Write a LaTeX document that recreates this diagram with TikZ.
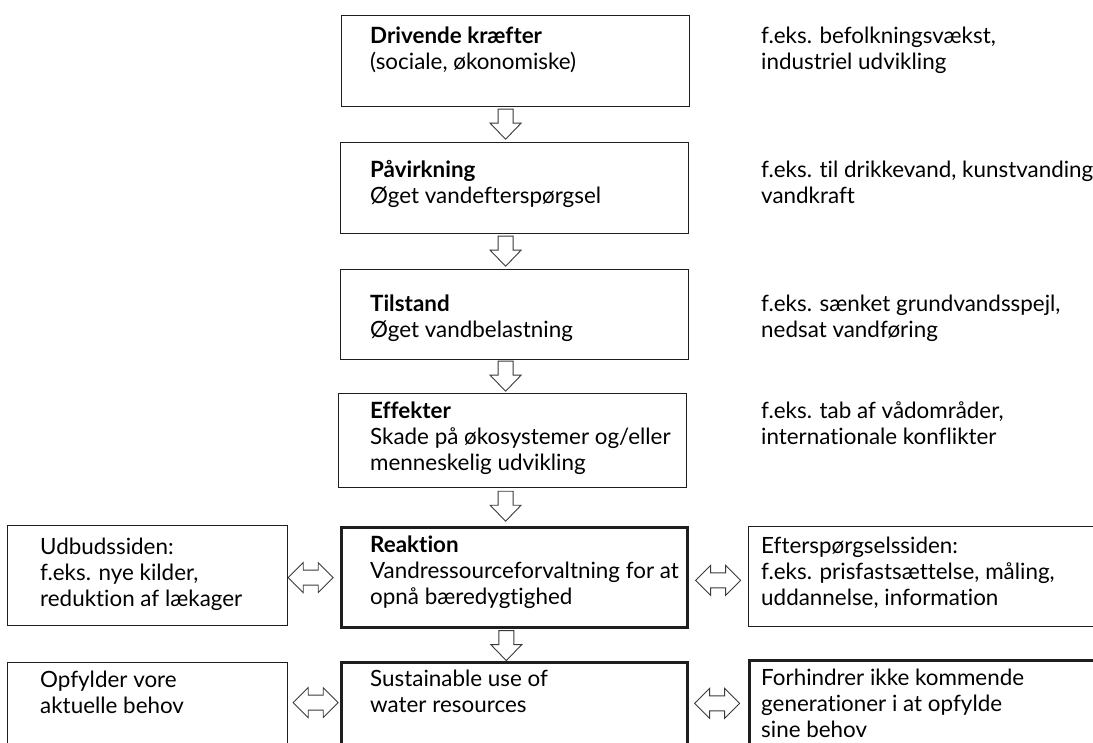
\documentclass[tikz,border=0pt]{standalone}
\usepackage{fontspec}
\setmainfont{Lato}[Ligatures=NoCommon]
\usetikzlibrary{calc}
\definecolor{boxcol}{HTML}{1E1E1E}
\definecolor{arrcol}{HTML}{3A3A3A}
\tikzset{
  box/.style={draw=boxcol, line width=1.2pt, inner sep=0pt, anchor=north west},
  thickbox/.style={box, line width=2.6pt},
  txt/.style={anchor=base west, align=left, inner sep=0pt, font=\fontsize{22.4}{26}\selectfont},
}
\tikzset{blk/.style={draw=arrcol, line width=0.9pt, fill=white, line join=miter}}
\newcommand{\dnarr}[1]{\draw[blk] #1 ++(-7.5,0) -- ++(15,0) -- ++(0,14) -- ++(8,0) -- ++(-15.5,16) -- ++(-15.5,-16) -- ++(8,0) -- cycle;}
\newcommand{\lrarr}[1]{\draw[blk] #1 -- ++(15,-15) -- ++(0,7.5) -- ++(15,0) -- ++(0,-7.5) -- ++(15,15) -- ++(-15,15) -- ++(0,-7.5) -- ++(-15,0) -- ++(0,7.5) -- cycle;}
\begin{document}
\begin{tikzpicture}[x=1pt,y=-1pt]
\useasboundingbox (0,0) rectangle (1093,743);
\clip (0,0) rectangle (1093,743);
\fill[white] (0,0) rectangle (1093,743);
% center column boxes
\node[box, minimum width=348pt, minimum height=91pt] (drv) at (341,15) {};
\node[box, minimum width=348pt, minimum height=91pt] (pav) at (340,142) {};
\node[box, minimum width=348pt, minimum height=90pt] (til) at (340,269) {};
\node[box, minimum width=348pt, minimum height=94pt] (eff) at (338,393) {};
\node[thickbox, minimum width=346pt, minimum height=100pt] (rea) at (340,526) {};
\node[thickbox, minimum width=346pt, minimum height=120pt] (sus) at (340,661) {};
% side boxes
\node[box, minimum width=280pt, minimum height=100pt] (udb) at (7,525) {};
\node[box, minimum width=280pt, minimum height=120pt] (opf) at (7,662) {};
\node[box, minimum width=360pt, minimum height=100pt] (eft) at (748,526) {};
\node[thickbox, minimum width=360pt, minimum height=120pt] (frh) at (748,659) {};
% texts (anchor = baseline of the last line)
\node[txt] (tdrv) at (370,70) {\textbf{Drivende kræfter}\\(sociale, økonomiske)};
\node[txt] (tpav) at (370,204) {\textbf{Påvirkning}\\Øget vandefterspørgsel};
\node[txt] (ttil) at (370,338) {\textbf{Tilstand}\\Øget vandbelastning};
\node[txt] (teff) at (370,470) {\textbf{Effekter}\\Skade på økosystemer og/eller\\menneskelig udvikling};
\node[txt] (trea) at (370,604) {\textbf{Reaktion}\\Vandressourceforvaltning for at\\opnå bæredygtighed};
\node[txt] (tsus) at (370,712) {Sustainable use of\\water resources};
\node[txt] (tudb) at (40,606) {Udbudssiden:\\f.eks. nye kilder,\\reduktion af lækager};
\node[txt] (topf) at (40,713) {Opfylder vore\\aktuelle behov};
\node[txt] (teft) at (761,605) {Efterspørgselssiden:\\f.eks. prisfastsættelse, måling,\\uddannelse, information};
\node[txt] (tfrh) at (761,737) {Forhindrer ikke kommende\\generationer i at opfylde\\sine behov};
\node[txt] (n1) at (761,70) {f.eks. befolkningsvækst,\\industriel udvikling};
\node[txt] (n2) at (761,204) {f.eks. til drikkevand, kunstvanding,\\vandkraft};
\node[txt] (n3) at (761,338) {f.eks. sænket grundvandsspejl,\\nedsat vandføring};
\node[txt] (n4) at (761,444) {f.eks. tab af vådområder,\\internationale konflikter};
% down arrows
\dnarr{($(drv.south)+(-10,2)$)}
\dnarr{($(pav.south)+(-9,2)$)}
\dnarr{($(til.south)+(-9,1)$)}
\dnarr{($(eff.south)+(-7,3)$)}
\dnarr{($(rea.south)+(-8,2)$)}
% double arrows
\lrarr{($(udb.east)+(0,2)$)}
\lrarr{($(rea.east)+(7,3)$)}
\lrarr{($(opf.east)+(5,-20)$)}
\lrarr{($(sus.east)+(6,-19)$)}
\end{tikzpicture}
\end{document}
